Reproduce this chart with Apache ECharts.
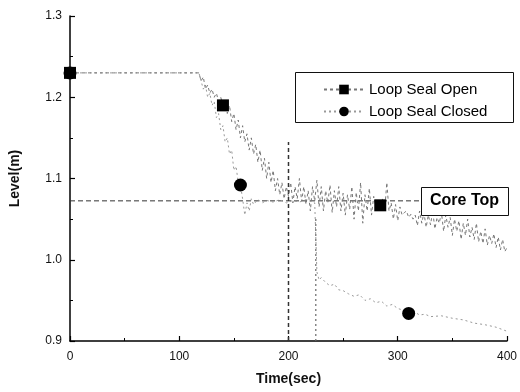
<!DOCTYPE html>
<html><head><meta charset="utf-8">
<script src="https://cdn.jsdelivr.net/npm/echarts@6/dist/echarts.min.js"></script>
<style>html,body{margin:0;padding:0;background:#fff}#c{width:520px;height:392px}</style>
</head><body><div id="c"></div>
<script>
const xTicks = [0, 100, 200, 300, 400];
const yTicks = [0.9, 1.0, 1.1, 1.2, 1.3];
const seriesNames = ['Loop Seal Open', 'Loop Seal Closed'];
const openData = [
[0,1.23],[20,1.23],[40,1.23],[60,1.23],[80,1.23],[100,1.23],[118,1.23],
[120,1.22],[122,1.225],[124,1.21],[126,1.215],[128,1.205],[130,1.21],[132,1.2],[134,1.205],[136,1.195],[138,1.2],
[140,1.19],[142,1.195],[144,1.18],[146,1.19],[148,1.17],[150,1.18],[152,1.16],[154,1.172],[156,1.15],[158,1.165],
[160,1.145],[162,1.155],[164,1.135],[166,1.15],[168,1.13],[170,1.142],[172,1.12],[174,1.135],[176,1.11],[178,1.125],
[180,1.1],[182,1.12],[184,1.095],[186,1.11],[188,1.085],[190,1.1],[192,1.08],[194,1.095],[196,1.075],[198,1.09],
[200,1.078],[202,1.095],[204,1.07],[206,1.09],[208,1.075],[210,1.1],[212,1.072],[214,1.09],[216,1.068],[218,1.085],
[220,1.06],[222,1.09],[224,1.072],[226,1.098],[228,1.065],[230,1.09],[232,1.06],[234,1.085],[236,1.07],[238,1.092],
[240,1.058],[242,1.085],[244,1.065],[246,1.09],[248,1.06],[250,1.082],[252,1.055],[254,1.08],[256,1.062],[258,1.09],
[260,1.05],[262,1.083],[264,1.06],[266,1.095],[268,1.045],[270,1.08],[272,1.06],[274,1.088],[276,1.055],[278,1.078],
[280,1.065],[282,1.072],[284,1.067],[286,1.075],[288,1.06],[290,1.095],[292,1.06],[294,1.07],[296,1.05],[298,1.068],
[300,1.048],[302,1.065],[304,1.055],[306,1.058],[308,1.06],[310,1.052],[312,1.056],[314,1.05],[316,1.055],[318,1.042],
[320,1.06],[322,1.045],[324,1.058],[326,1.04],[328,1.055],[330,1.043],[332,1.06],[334,1.038],[336,1.052],[338,1.045],
[340,1.058],[342,1.035],[344,1.055],[346,1.04],[348,1.052],[350,1.03],[352,1.05],[354,1.035],[356,1.048],[358,1.025],
[360,1.045],[362,1.03],[364,1.05],[366,1.028],[368,1.04],[370,1.025],[372,1.045],[374,1.022],[376,1.035],[378,1.02],
[380,1.038],[382,1.018],[384,1.03],[386,1.02],[388,1.032],[390,1.015],[392,1.028],[394,1.012],[396,1.025],[398,1.01],[400,1.015]
];
const closedData = [
[0,1.23],[20,1.23],[40,1.23],[60,1.23],[80,1.23],[100,1.23],[118,1.23],
[120,1.22],[122,1.21],[124,1.215],[126,1.2],[128,1.205],[130,1.19],[132,1.195],[134,1.175],[136,1.18],[138,1.16],
[140,1.165],[142,1.145],[144,1.15],[146,1.13],[148,1.135],[150,1.11],[152,1.115],[154,1.095],[156,1.092],[158,1.075],
[160,1.055],[162,1.07],[164,1.06],[166,1.075],[168,1.068],[172,1.074],[176,1.07],[180,1.073],[186,1.071],[192,1.074],
[198,1.07],[204,1.073],[210,1.071],[216,1.074],[222,1.071],[224,1.07],[226,0.985],[228,0.975],[230,0.978],[234,0.972],
[238,0.968],[242,0.97],[246,0.963],[250,0.962],[255,0.958],[260,0.955],[265,0.957],[270,0.95],[275,0.952],[280,0.947],
[285,0.949],[290,0.943],[295,0.945],[300,0.94],[305,0.938],[310,0.934],[315,0.936],[320,0.932],[325,0.933],[330,0.93],
[340,0.931],[350,0.928],[360,0.926],[370,0.922],[380,0.92],[390,0.917],[400,0.912]
];
const openMarkerTimes = [0, 140, 284];
const closedMarkerTimes = [0, 156, 310];
const coreTopLevel = 1.0725;
const vLine1 = [[200, 0.9], [200, 1.145]];
const vLine2 = [[225, 0.9], [225, 1.052]];

function withMarkers(data, marks) {
  return data.map(p => marks.includes(p[0]) ? {value: p} : {value: p, symbol: 'none'});
}

const chart = echarts.init(document.getElementById('c'));
const F = 'Liberation Sans, Arial, sans-serif';
chart.setOption({
  animation: false,
  backgroundColor: '#fff',
  grid: {left: 68, right: 8, top: 16, bottom: 51},
  xAxis: {
    type: 'value', min: 0, max: 400, interval: 100,
    name: 'Time(sec)', nameLocation: 'middle', nameGap: 31,
    nameTextStyle: {fontFamily: F, fontSize: 14, color: '#111', fontWeight: 'bold'},
    axisLine: {lineStyle: {color: '#000', width: 1.5}},
    axisTick: {inside: true, length: 5, lineStyle: {color: '#000', width: 1.2}},
    minorTick: {show: true, splitNumber: 2, length: 3, lineStyle: {color: '#000'}},
    axisLabel: {fontFamily: F, fontSize: 12, color: '#111', margin: 10,
      formatter: v => xTicks.includes(v) ? String(v) : ''},
    splitLine: {show: false}
  },
  yAxis: {
    type: 'value', min: 0.9, max: 1.3, interval: 0.1,
    name: 'Level(m)', nameLocation: 'middle', nameGap: 48, nameRotate: 90,
    nameTextStyle: {fontFamily: F, fontSize: 14, color: '#111', fontWeight: 'bold'},
    axisLine: {show: true, lineStyle: {color: '#000', width: 1.5}},
    axisTick: {show: true, inside: true, length: 5, lineStyle: {color: '#000', width: 1.2}},
    minorTick: {show: true, splitNumber: 2, length: 3, lineStyle: {color: '#000'}},
    axisLabel: {fontFamily: F, fontSize: 12, color: '#111', margin: 8,
      formatter: v => { const t = yTicks.find(y => Math.abs(y - v) < 1e-6); return t !== undefined ? t.toFixed(1) : ''; }},
    splitLine: {show: false}
  },
  legend: {
    left: 318, top: 77, orient: 'vertical', itemGap: 7, itemWidth: 40, itemHeight: 12,
    data: seriesNames,
    textStyle: {fontFamily: F, fontSize: 15, color: '#000'}
  },
  graphic: [
    {type: 'rect', left: 293, top: 70, shape: {width: 218, height: 50},
      style: {fill: 'none', stroke: '#111', lineWidth: 1}, z: 100},
    {type: 'rect', left: 421, top: 187, shape: {width: 87, height: 28},
      style: {fill: '#fff', stroke: '#111', lineWidth: 1}, z: 100},
    {type: 'text', left: 430, top: 193, z: 101,
      style: {text: 'Core Top', font: 'bold 16px ' + F, fill: '#000'}}
  ],
  series: [
    {name: seriesNames[0], type: 'line', data: withMarkers(openData, openMarkerTimes),
      symbol: 'rect', symbolSize: 12, showSymbol: true, showAllSymbol: true,
      itemStyle: {color: '#000'}, lineStyle: {color: '#777', width: 1, type: [3, 3]}, z: 5},
    {name: seriesNames[1], type: 'line', data: withMarkers(closedData, closedMarkerTimes),
      symbol: 'circle', symbolSize: 13, showSymbol: true, showAllSymbol: true,
      itemStyle: {color: '#000'}, lineStyle: {color: '#999', width: 1, type: [2, 3]}, z: 4},
    {type: 'line', data: [[0, coreTopLevel], [400, coreTopLevel]], symbol: 'none',
      lineStyle: {color: '#333', width: 1, type: [5, 3]}, z: 3, silent: true},
    {type: 'line', data: vLine1, symbol: 'none',
      lineStyle: {color: '#333', width: 1.5, type: [4, 3]}, z: 3, silent: true},
    {type: 'line', data: vLine2, symbol: 'none',
      lineStyle: {color: '#666', width: 1.2, type: [2, 3]}, z: 3, silent: true}
  ]
});
</script></body></html>
